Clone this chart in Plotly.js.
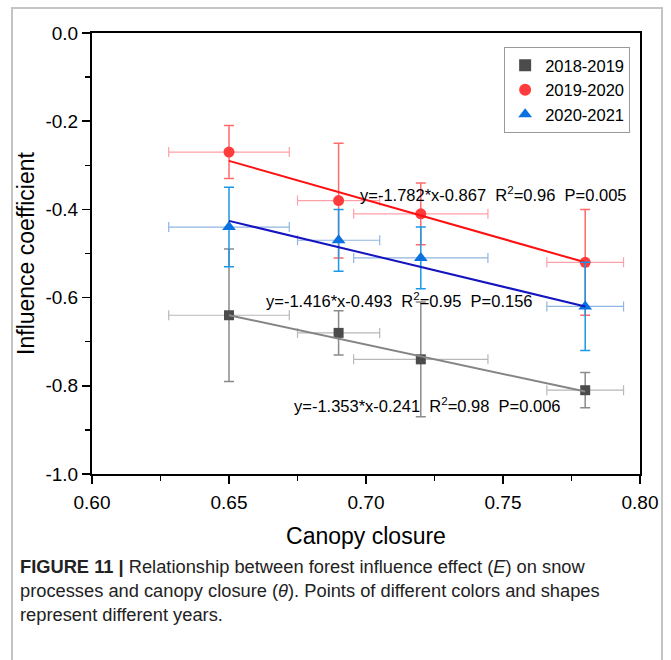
<!DOCTYPE html>
<html><head><meta charset="utf-8">
<script src="https://cdn.plot.ly/plotly-3.0.1.min.js"></script>
<style>body{margin:0;background:#fff}#chart{width:671px;height:660px}</style>
</head><body><div id="chart"></div>
<script>
// Data
const canopy = [0.65, 0.69, 0.72, 0.78];
const canopyErr = [0.022, 0.015, 0.0245, 0.014];

const y1819 = [-0.64, -0.68, -0.74, -0.81];
const e1819 = [0.15, 0.05, 0.13, 0.04];
const y1920 = [-0.27, -0.38, -0.41, -0.52];
const e1920 = [0.06, 0.13, 0.07, 0.12];
const y2021 = [-0.44, -0.47, -0.51, -0.62];
const e2021 = [0.09, 0.07, 0.07, 0.10];

const fitX = [0.65, 0.78];
const fit1819 = [-0.64, -0.813];
const fit1920 = [-0.29, -0.52];
const fit2021 = [-0.426, -0.62];

const seriesNames = ['2018-2019', '2019-2020', '2020-2021'];
const eqTexts = [
  'y=-1.353*x-0.241  R<sup>2</sup>=0.98  P=0.006',
  'y=-1.782*x-0.867  R<sup>2</sup>=0.96  P=0.005',
  'y=-1.416*x-0.493  R<sup>2</sup>=0.95  P=0.156'
];
const xTickVals = [0.60, 0.65, 0.70, 0.75, 0.80];
const xTickText = ['0.60', '0.65', '0.70', '0.75', '0.80'];
const yTickVals = [0.0, -0.2, -0.4, -0.6, -0.8, -1.0];
const yTickText = ['0.0', '-0.2', '-0.4', '-0.6', '-0.8', '-1.0'];

const FONT = 'Liberation Sans, Arial, sans-serif';

function lineTrace(y, color) {
  return {x: fitX, y: y, mode: 'lines', line: {color: color, width: 2}, showlegend: false, hoverinfo: 'skip'};
}
function pointTrace(name, y, ey, marker, yErrColor, xErrColor) {
  return {
    x: canopy, y: y, name: name, mode: 'markers', type: 'scatter',
    marker: marker,
    error_y: {type: 'data', array: ey, visible: true, color: yErrColor, thickness: 1.5, width: 5},
    error_x: {type: 'data', array: canopyErr, visible: true, color: xErrColor, thickness: 1.2, width: 5}
  };
}

const traces = [
  pointTrace(seriesNames[0], y1819, e1819, {symbol: 'square', size: 10, color: '#4b4b4b'}, '#8a8a8a', '#b8b8b8'),
  lineTrace(fit1819, '#858585'),
  pointTrace(seriesNames[1], y1920, e1920, {symbol: 'circle', size: 11, color: '#ff3b3b'}, '#ff6a6a', '#ffa0a8'),
  lineTrace(fit1920, '#ff1010'),
  pointTrace(seriesNames[2], y2021, e2021, {symbol: 'triangle-up', size: 12, color: '#0a72e0'}, '#1a98e8', '#8fb5e0'),
  lineTrace(fit2021, '#1414c0')
];

const capFont = {family: FONT, size: 18.3, color: '#222'};

const layout = {
  width: 671, height: 660,
  margin: {l: 92, r: 31, t: 33, b: 186},
  paper_bgcolor: '#fff', plot_bgcolor: '#fff',
  font: {family: FONT, color: '#000'},
  showlegend: true,
  legend: {
    x: 0.982, y: 0.968, xanchor: 'right', yanchor: 'top',
    bordercolor: '#999', borderwidth: 1, bgcolor: '#fff',
    font: {family: FONT, size: 16.5, color: '#000'},
    itemsizing: 'constant', tracegroupgap: 0
  },
  xaxis: {
    range: [0.60, 0.80], tickvals: xTickVals, ticktext: xTickText,
    showgrid: false, zeroline: false, showline: true, linecolor: '#000', linewidth: 2, mirror: true,
    ticks: 'outside', ticklen: 8, tickwidth: 1.5, tickcolor: '#000', ticklabelstandoff: 2,
    minor: {dtick: 0.025, ticks: 'outside', ticklen: 5, tickwidth: 1.5, tickcolor: '#000', showgrid: false},
    tickfont: {family: FONT, size: 19, color: '#000'},
    title: {text: 'Canopy closure', font: {family: FONT, size: 23, color: '#000'}, standoff: 16}
  },
  yaxis: {
    range: [-1.0, 0.0], tickvals: yTickVals, ticktext: yTickText,
    showgrid: false, zeroline: false, showline: true, linecolor: '#000', linewidth: 2, mirror: true,
    ticks: 'outside', ticklen: 8, tickwidth: 1.5, tickcolor: '#000',
    minor: {dtick: 0.1, ticks: 'outside', ticklen: 5, tickwidth: 1.5, tickcolor: '#000', showgrid: false},
    tickfont: {family: FONT, size: 19, color: '#000'},
    title: {text: 'Influence coefficient', font: {family: FONT, size: 23, color: '#000'}, standoff: 4}
  },
  annotations: [
    {x: 0.673, y: -0.8435, xref: 'x', yref: 'y', xanchor: 'left', yanchor: 'middle', showarrow: false,
     text: eqTexts[0], font: {family: FONT, size: 16.5, color: '#000'}},
    {x: 0.697, y: -0.365, xref: 'x', yref: 'y', xanchor: 'left', yanchor: 'middle', showarrow: false,
     text: eqTexts[1], font: {family: FONT, size: 16.5, color: '#000'}},
    {x: 0.6628, y: -0.605, xref: 'x', yref: 'y', xanchor: 'left', yanchor: 'middle', showarrow: false,
     text: eqTexts[2], font: {family: FONT, size: 16.5, color: '#000'}},
    {x: -0.135, y: (474 - 566) / 441, xref: 'paper', yref: 'paper', xanchor: 'left', yanchor: 'middle', showarrow: false,
     text: '<b>FIGURE 11 |</b> Relationship between forest influence effect (<i>E</i>) on snow', font: capFont},
    {x: -0.135, y: (474 - 590) / 441, xref: 'paper', yref: 'paper', xanchor: 'left', yanchor: 'middle', showarrow: false,
     text: 'processes and canopy closure (<i>θ</i>). Points of different colors and shapes', font: capFont},
    {x: -0.135, y: (474 - 614) / 441, xref: 'paper', yref: 'paper', xanchor: 'left', yanchor: 'middle', showarrow: false,
     text: 'represent different years.', font: capFont}
  ],
  shapes: [
    {type: 'rect', xref: 'paper', yref: 'paper', x0: (12 - 92) / 548, x1: (662 - 92) / 548,
     y0: (474 - 668) / 441, y1: (474 - 8) / 441, line: {color: '#c4c4c4', width: 2}, layer: 'below'}
  ]
};

Plotly.newPlot('chart', traces, layout, {displayModeBar: false, staticPlot: true});
</script>
</body></html>
